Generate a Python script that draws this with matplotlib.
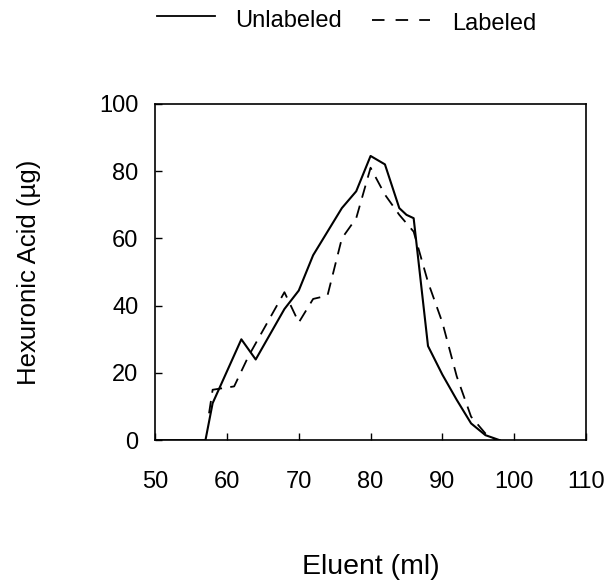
#!/usr/bin/env python3

import matplotlib
matplotlib.use('Agg')
import matplotlib.pyplot as plt
from matplotlib.lines import Line2D

plt.rcParams['font.family'] = ['Liberation Sans', 'DejaVu Sans']
plt.rcParams['lines.scale_dashes'] = False

# Elution profiles
unlabeled_x = [50, 57, 58, 62, 64, 68, 70, 72, 76, 78, 80, 82, 84, 85, 86, 88, 90, 92, 94, 96, 98]
unlabeled_y = [0, 0, 11, 30, 24, 39, 44.5, 55, 69, 74, 84.5, 82, 69, 67, 66, 28, 19.5, 12, 5, 1.5, 0]

labeled_x = [57.5, 58, 61, 63, 68, 70, 72, 74, 76, 78, 80, 82, 84, 86, 88, 90, 92, 94, 96, 97.5]
labeled_y = [8, 15, 16, 25, 44, 35, 42, 43, 60, 66, 81, 73, 67, 62, 47, 35, 19, 7, 2, 0]

x_ticks = [50, 60, 70, 80, 90, 100, 110]
y_ticks = [0, 20, 40, 60, 80, 100]

fig = plt.figure(figsize=(6.11, 5.8), dpi=100)
ax = fig.add_axes([0.254, 0.241, 0.705, 0.580])

ax.plot(unlabeled_x, unlabeled_y, color='black', lw=1.5)
ax.plot(labeled_x, labeled_y, color='black', lw=1.3, dashes=(9, 6))

ax.set_xlim(50, 110)
ax.set_ylim(0, 100)
ax.set_xticks(x_ticks)
ax.set_yticks(y_ticks)
ax.tick_params(direction='in', length=5, width=1, labelsize=17, top=False, right=False)
ax.tick_params(axis='x', pad=22)
ax.tick_params(axis='y', pad=12)
for s in ax.spines.values():
    s.set_linewidth(1.2)

ax.set_xlabel('Eluent (ml)', fontsize=20.5, labelpad=44)
ax.set_ylabel('Hexuronic Acid (\u00b5g)', fontsize=18.5, labelpad=42)

# legend drawn by hand along the top
fig.add_artist(Line2D([157 / 611, 215 / 611], [1 - 16 / 580] * 2, color='black', lw=1.3))
fig.text(235 / 611, 1 - 21 / 580, 'Unlabeled', fontsize=17, va='center', ha='left')
fig.add_artist(Line2D([372 / 611, 430 / 611], [1 - 20 / 580] * 2, color='black', lw=1.3,
                      dashes=(9, 8)))
fig.text(452 / 611, 1 - 24 / 580, 'Labeled', fontsize=17, va='center', ha='left')

fig.savefig('out.png', dpi=100)
